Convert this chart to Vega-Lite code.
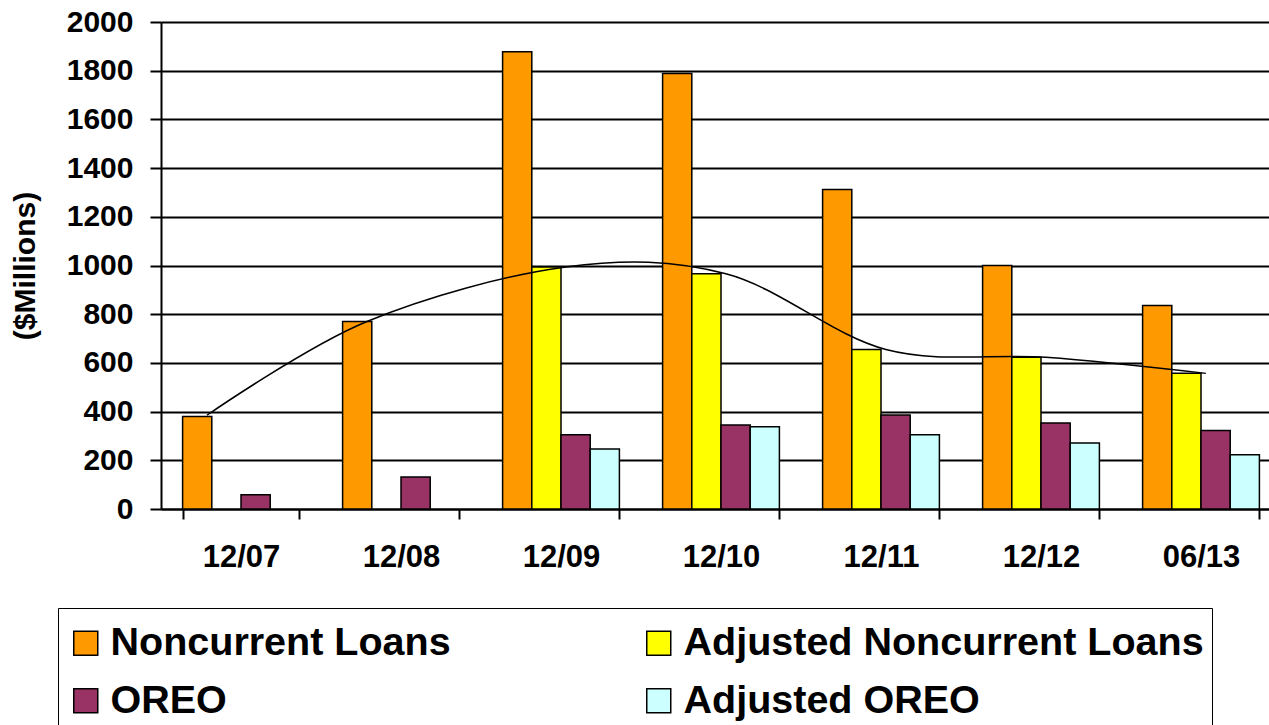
{
  "$schema": "https://vega.github.io/schema/vega-lite/v6.json",
  "width": 1108,
  "height": 487,
  "autosize": {"type": "none"},
  "padding": {"left": 161, "top": 22, "right": 0, "bottom": 216},
  "config": {
    "view": {"stroke": null},
    "font": "Liberation Sans",
    "axis": {"labelColor": "black", "labelFontWeight": "bold", "titleColor": "black"}
  },
  "datasets": {
    "bars": [
      {"period": "12/07", "series": "Noncurrent Loans", "value": 380},
      {"period": "12/07", "series": "OREO", "value": 59},
      {"period": "12/08", "series": "Noncurrent Loans", "value": 770},
      {"period": "12/08", "series": "OREO", "value": 131},
      {"period": "12/09", "series": "Noncurrent Loans", "value": 1878},
      {"period": "12/09", "series": "Adjusted Noncurrent Loans", "value": 994},
      {"period": "12/09", "series": "OREO", "value": 305},
      {"period": "12/09", "series": "Adjusted OREO", "value": 246},
      {"period": "12/10", "series": "Noncurrent Loans", "value": 1788},
      {"period": "12/10", "series": "Adjusted Noncurrent Loans", "value": 966},
      {"period": "12/10", "series": "OREO", "value": 345},
      {"period": "12/10", "series": "Adjusted OREO", "value": 338},
      {"period": "12/11", "series": "Noncurrent Loans", "value": 1312},
      {"period": "12/11", "series": "Adjusted Noncurrent Loans", "value": 655},
      {"period": "12/11", "series": "OREO", "value": 386},
      {"period": "12/11", "series": "Adjusted OREO", "value": 305},
      {"period": "12/12", "series": "Noncurrent Loans", "value": 1000},
      {"period": "12/12", "series": "Adjusted Noncurrent Loans", "value": 623},
      {"period": "12/12", "series": "OREO", "value": 353},
      {"period": "12/12", "series": "Adjusted OREO", "value": 271},
      {"period": "06/13", "series": "Noncurrent Loans", "value": 836},
      {"period": "06/13", "series": "Adjusted Noncurrent Loans", "value": 557},
      {"period": "06/13", "series": "OREO", "value": 322},
      {"period": "06/13", "series": "Adjusted OREO", "value": 223}
    ],
    "trend": [
      {"period": "12/07", "slot": "Adjusted Noncurrent Loans", "value": 385},
      {"period": "12/08", "slot": "Adjusted Noncurrent Loans", "value": 770},
      {"period": "12/09", "slot": "OREO", "value": 994},
      {"period": "12/10", "slot": "OREO", "value": 966},
      {"period": "12/11", "slot": "OREO", "value": 655},
      {"period": "12/12", "slot": "OREO", "value": 623},
      {"period": "06/13", "slot": "OREO", "value": 557}
    ]
  },
  "resolve": {"scale": {"xOffset": "independent"}},
  "layer": [
    {
      "data": {"name": "bars"},
      "mark": {"type": "bar", "stroke": "black", "strokeWidth": 1.5},
      "encoding": {
        "x": {
          "field": "period",
          "type": "nominal",
          "sort": ["12/07", "12/08", "12/09", "12/10", "12/11", "12/12", "06/13"],
          "scale": {"range": [0, 1120], "paddingInner": 0.27, "paddingOuter": 0.135},
          "axis": {
            "title": null,
            "labelAngle": 0,
            "labelFontSize": 31,
            "labelPadding": 23,
            "tickBand": "extent",
            "tickSize": 10,
            "tickWidth": 2,
            "tickColor": "black",
            "domainColor": "black",
            "domainWidth": 2,
            "grid": false
          }
        },
        "xOffset": {
          "field": "series",
          "type": "nominal",
          "scale": {
            "domain": ["Noncurrent Loans", "Adjusted Noncurrent Loans", "OREO", "Adjusted OREO"],
            "paddingInner": 0,
            "paddingOuter": 0
          }
        },
        "y": {
          "field": "value",
          "type": "quantitative",
          "scale": {"domain": [0, 2000]},
          "axis": {
            "title": "($Millions)",
            "titleFontSize": 30,
            "titleFontWeight": "bold",
            "titlePadding": 26,
            "labelFontSize": 30,
            "labelPadding": 17,
            "format": "d",
            "values": [0, 200, 400, 600, 800, 1000, 1200, 1400, 1600, 1800, 2000],
            "grid": true,
            "gridColor": "black",
            "gridWidth": 2,
            "tickSize": 11,
            "tickWidth": 2,
            "tickColor": "black",
            "domainColor": "black",
            "domainWidth": 2
          }
        },
        "color": {
          "field": "series",
          "type": "nominal",
          "scale": {
            "domain": ["Noncurrent Loans", "OREO", "Adjusted Noncurrent Loans", "Adjusted OREO"],
            "range": ["#FF9900", "#993366", "#FFFF00", "#CCFFFF"]
          },
          "legend": {
            "title": " ",
            "titleFontSize": 4,
            "titlePadding": 3,
            "orient": "none",
            "legendX": -103,
            "legendY": 586,
            "columns": 2,
            "columnPadding": 188,
            "rowPadding": 17,
            "padding": 8,
            "strokeColor": "black",
            "symbolType": "square",
            "symbolSize": 576,
            "symbolStrokeColor": "black",
            "symbolStrokeWidth": 1.5,
            "symbolOpacity": 1,
            "labelFontSize": 39.5,
            "labelFontWeight": "bold",
            "labelColor": "black",
            "labelLimit": 0,
            "labelOffset": 5
          }
        }
      }
    },
    {
      "data": {"name": "trend"},
      "mark": {"type": "line", "color": "black", "strokeWidth": 1.5, "interpolate": "cardinal"},
      "encoding": {
        "x": {
          "field": "period",
          "type": "nominal",
          "sort": ["12/07", "12/08", "12/09", "12/10", "12/11", "12/12", "06/13"]
        },
        "xOffset": {
          "field": "slot",
          "type": "nominal",
          "scale": {
            "domain": ["Noncurrent Loans", "Adjusted Noncurrent Loans", "OREO", "Adjusted OREO"],
            "range": [-14.6, 102.2],
            "paddingInner": 0,
            "paddingOuter": 0
          }
        },
        "y": {"field": "value", "type": "quantitative"}
      }
    }
  ]
}
